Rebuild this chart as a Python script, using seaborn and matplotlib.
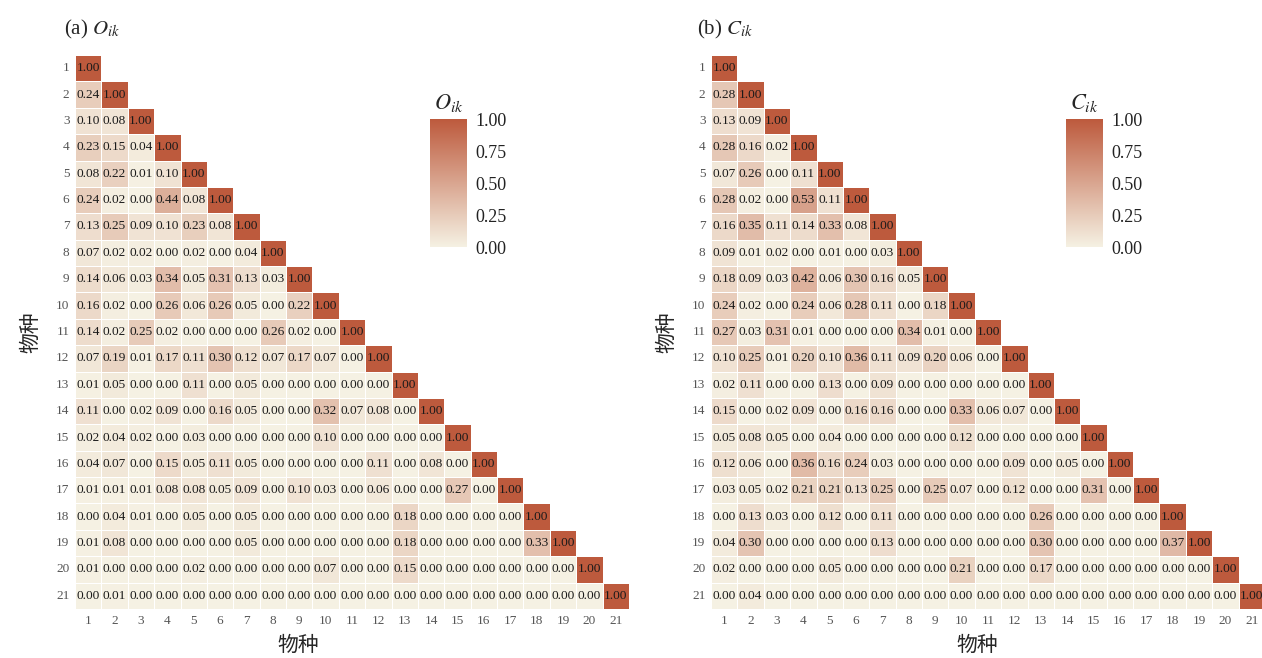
import numpy as np
import pandas as pd
import matplotlib
matplotlib.use("Agg")
import matplotlib.pyplot as plt
import seaborn as sns
from matplotlib.colors import LinearSegmentedColormap

species = [str(i) for i in range(1, 22)]

# lower-triangle values (row i, columns 1..i-1); diagonal = 1.00
O_rows = [
    [],
    [0.24],
    [0.10, 0.08],
    [0.23, 0.15, 0.04],
    [0.08, 0.22, 0.01, 0.10],
    [0.24, 0.02, 0.00, 0.44, 0.08],
    [0.13, 0.25, 0.09, 0.10, 0.23, 0.08],
    [0.07, 0.02, 0.02, 0.00, 0.02, 0.00, 0.04],
    [0.14, 0.06, 0.03, 0.34, 0.05, 0.31, 0.13, 0.03],
    [0.16, 0.02, 0.00, 0.26, 0.06, 0.26, 0.05, 0.00, 0.22],
    [0.14, 0.02, 0.25, 0.02, 0.00, 0.00, 0.00, 0.26, 0.02, 0.00],
    [0.07, 0.19, 0.01, 0.17, 0.11, 0.30, 0.12, 0.07, 0.17, 0.07, 0.00],
    [0.01, 0.05, 0.00, 0.00, 0.11, 0.00, 0.05, 0.00, 0.00, 0.00, 0.00, 0.00],
    [0.11, 0.00, 0.02, 0.09, 0.00, 0.16, 0.05, 0.00, 0.00, 0.32, 0.07, 0.08, 0.00],
    [0.02, 0.04, 0.02, 0.00, 0.03, 0.00, 0.00, 0.00, 0.00, 0.10, 0.00, 0.00, 0.00, 0.00],
    [0.04, 0.07, 0.00, 0.15, 0.05, 0.11, 0.05, 0.00, 0.00, 0.00, 0.00, 0.11, 0.00, 0.08, 0.00],
    [0.01, 0.01, 0.01, 0.08, 0.08, 0.05, 0.09, 0.00, 0.10, 0.03, 0.00, 0.06, 0.00, 0.00, 0.27, 0.00],
    [0.00, 0.04, 0.01, 0.00, 0.05, 0.00, 0.05, 0.00, 0.00, 0.00, 0.00, 0.00, 0.18, 0.00, 0.00, 0.00, 0.00],
    [0.01, 0.08, 0.00, 0.00, 0.00, 0.00, 0.05, 0.00, 0.00, 0.00, 0.00, 0.00, 0.18, 0.00, 0.00, 0.00, 0.00, 0.33],
    [0.01, 0.00, 0.00, 0.00, 0.02, 0.00, 0.00, 0.00, 0.00, 0.07, 0.00, 0.00, 0.15, 0.00, 0.00, 0.00, 0.00, 0.00, 0.00],
    [0.00, 0.01, 0.00, 0.00, 0.00, 0.00, 0.00, 0.00, 0.00, 0.00, 0.00, 0.00, 0.00, 0.00, 0.00, 0.00, 0.00, 0.00, 0.00, 0.00],
]

C_rows = [
    [],
    [0.28],
    [0.13, 0.09],
    [0.28, 0.16, 0.02],
    [0.07, 0.26, 0.00, 0.11],
    [0.28, 0.02, 0.00, 0.53, 0.11],
    [0.16, 0.35, 0.11, 0.14, 0.33, 0.08],
    [0.09, 0.01, 0.02, 0.00, 0.01, 0.00, 0.03],
    [0.18, 0.09, 0.03, 0.42, 0.06, 0.30, 0.16, 0.05],
    [0.24, 0.02, 0.00, 0.24, 0.06, 0.28, 0.11, 0.00, 0.18],
    [0.27, 0.03, 0.31, 0.01, 0.00, 0.00, 0.00, 0.34, 0.01, 0.00],
    [0.10, 0.25, 0.01, 0.20, 0.10, 0.36, 0.11, 0.09, 0.20, 0.06, 0.00],
    [0.02, 0.11, 0.00, 0.00, 0.13, 0.00, 0.09, 0.00, 0.00, 0.00, 0.00, 0.00],
    [0.15, 0.00, 0.02, 0.09, 0.00, 0.16, 0.16, 0.00, 0.00, 0.33, 0.06, 0.07, 0.00],
    [0.05, 0.08, 0.05, 0.00, 0.04, 0.00, 0.00, 0.00, 0.00, 0.12, 0.00, 0.00, 0.00, 0.00],
    [0.12, 0.06, 0.00, 0.36, 0.16, 0.24, 0.03, 0.00, 0.00, 0.00, 0.00, 0.09, 0.00, 0.05, 0.00],
    [0.03, 0.05, 0.02, 0.21, 0.21, 0.13, 0.25, 0.00, 0.25, 0.07, 0.00, 0.12, 0.00, 0.00, 0.31, 0.00],
    [0.00, 0.13, 0.03, 0.00, 0.12, 0.00, 0.11, 0.00, 0.00, 0.00, 0.00, 0.00, 0.26, 0.00, 0.00, 0.00, 0.00],
    [0.04, 0.30, 0.00, 0.00, 0.00, 0.00, 0.13, 0.00, 0.00, 0.00, 0.00, 0.00, 0.30, 0.00, 0.00, 0.00, 0.00, 0.37],
    [0.02, 0.00, 0.00, 0.00, 0.05, 0.00, 0.00, 0.00, 0.00, 0.21, 0.00, 0.00, 0.17, 0.00, 0.00, 0.00, 0.00, 0.00, 0.00],
    [0.00, 0.04, 0.00, 0.00, 0.00, 0.00, 0.00, 0.00, 0.00, 0.00, 0.00, 0.00, 0.00, 0.00, 0.00, 0.00, 0.00, 0.00, 0.00, 0.00],
]

cbar_ticks = [0.00, 0.25, 0.50, 0.75, 1.00]


def build(rows):
    n = len(species)
    m = np.full((n, n), np.nan)
    for i, r in enumerate(rows):
        for j, v in enumerate(r):
            m[i, j] = v
        m[i, i] = 1.0
    return pd.DataFrame(m, index=species, columns=species)


sns.set_style("white")
plt.rcParams["font.family"] = ["Liberation Serif", "DejaVu Serif"]
plt.rcParams["mathtext.fontset"] = "stix"

cmap = LinearSegmentedColormap.from_list("cream_rust", ["#f5f1e3", "#bd5a3d"])

W, H = 1262, 658
fig = plt.figure(figsize=(W / 100, H / 100), dpi=100)

# (rows, tag, symbol, axes left px, title left px, xlabel centre px)
panels = [
    (O_rows, "(a) ", r"O", 75, 64, 298),
    (C_rows, "(b) ", r"C", 711, 697, 977),
]
cjk = ["Noto Sans CJK SC", "DejaVu Sans"]

for rows, tag, sym, x0, tx, xl in panels:
    df = build(rows)
    mask = np.triu(np.ones(df.shape, dtype=bool), k=1)
    ax = fig.add_axes([x0 / W, 1 - 609 / H, 554 / W, 554 / H])
    cax = fig.add_axes([(x0 + 355) / W, 1 - 247 / H, 37 / W, 128 / H])
    sns.heatmap(
        df, mask=mask, cmap=cmap, vmin=0, vmax=1, annot=True, fmt=".2f",
        annot_kws={"size": 9.6, "color": "#1a1a1a"},
        linewidths=0.6, linecolor="white", ax=ax, cbar_ax=cax,
        cbar_kws={"ticks": cbar_ticks},
    )
    ax.tick_params(axis="both", length=0, labelsize=9.5, labelcolor="#555555", pad=4)
    ax.set_xticklabels(species, rotation=0)
    ax.set_yticklabels(species, rotation=0)
    ax.set_xlabel("物种", fontsize=15, family=cjk)
    ax.set_ylabel("物种", fontsize=15, family=cjk)
    ax.xaxis.set_label_coords((xl - x0) / 554, (609 - 645) / 554)
    ax.xaxis.label.set_va("center")
    ax.yaxis.set_label_coords((30 - 75) / 554, 0.5)
    ax.yaxis.label.set_va("center")

    cb = ax.collections[0].colorbar
    cb.outline.set_visible(False)
    cax.set_yticklabels([f"{t:.2f}" for t in cbar_ticks])
    cax.tick_params(axis="y", which="both", direction="in", left=True, right=True,
                    color="white", length=4, width=0.8, labelsize=13,
                    labelcolor="#222222", pad=6)
    cax.set_title(rf"${sym}_{{ik}}$", fontsize=16, pad=7)

    fig.text(tx / W, 1 - 34 / H, tag + rf"${sym}_{{ik}}$", fontsize=15,
             ha="left", va="baseline")

fig.savefig("out.png", dpi=100)
